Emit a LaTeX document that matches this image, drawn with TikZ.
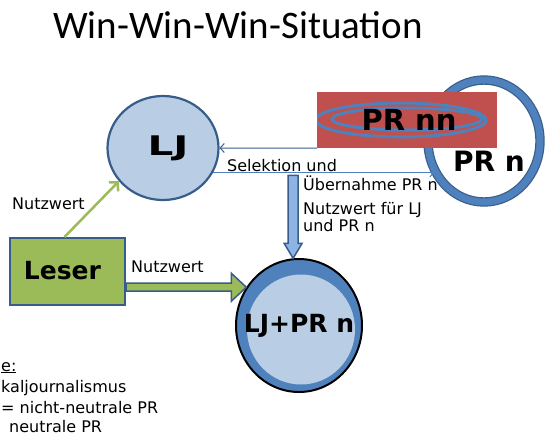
\documentclass[tikz,border=0pt]{standalone}
\usepackage{fontspec}
\setmainfont{DejaVu Sans}
\newfontfamily\titlefont{Carlito}
\usetikzlibrary{arrows.meta, positioning, calc, shapes.geometric}

\definecolor{ljfill}{HTML}{B9CDE5}
\definecolor{ringblue}{HTML}{4F81BD}
\definecolor{edgeblue}{HTML}{385D8A}
\definecolor{prred}{HTML}{C0504D}
\definecolor{leserfill}{HTML}{9BBB59}
\definecolor{shaftblue}{HTML}{8EB4E3}

\begin{document}
\begin{tikzpicture}[
  x=1pt, y=-1pt,
  lbl/.style={font=\fontsize{16}{18}\selectfont, inner sep=0pt, anchor=base west},
  big/.style={font=\fontsize{26}{30}\selectfont\bfseries, inner sep=0pt, inner xsep=-20pt},
  thinarrow/.style={-{Straight Barb[length=4pt,width=9pt]}, line width=1pt},
  blockarrow/.style={draw=edgeblue, line width=1.5pt, line join=miter}
]
\useasboundingbox (0,0) rectangle (546,437);

\node[font=\titlefont\fontsize{39}{44}\selectfont, anchor=base, inner sep=0pt] (title) at (238,38) {Win-Win-Win-Situation};

% circles and boxes
\node[big, ellipse, minimum width=111pt, minimum height=104pt, fill=ljfill, draw=edgeblue, line width=2.2pt,
  font=\fontsize{27}{30}\selectfont\bfseries] (lj) at (163,148) {\hspace{10pt}\scalebox{1.5}[1]{LJ}};
\node[ellipse, minimum width=112pt, minimum height=122pt, fill=white, draw=edgeblue, line width=1.2pt,
  double=ringblue, double distance=7pt,
  label={[big, inner xsep=0pt, font=\fontsize{28}{30}\selectfont\bfseries, xshift=5pt, yshift=-20pt]center:PR n}] (prn) at (484,141) {};
\node[big, rectangle, minimum width=180pt, minimum height=56pt, fill=prred, inner sep=0pt,
  font=\fontsize{29}{30}\selectfont\bfseries,
  path picture={
    \draw[ringblue, line width=3pt] ($(path picture bounding box.center)+(-6pt,0pt)$) ellipse (85pt and 17pt);
    \draw[ringblue, line width=3pt] ($(path picture bounding box.center)+(0pt,1pt)$) ellipse (75pt and 11pt);
  }] (nn) at (407,120) {\hspace{4pt}PR nn};
\node[rectangle, minimum width=115pt, minimum height=67pt, fill=leserfill, draw=edgeblue, line width=2pt,
  font=\fontsize{25}{28}\selectfont\bfseries] (leser) at (67.5,271.5) {\hspace{-10pt}\raisebox{2pt}{Leser}};
\node[big, ellipse, minimum width=126pt, minimum height=133pt, fill=ringblue, draw=black, line width=2pt,
  font=\fontsize{25}{28}\selectfont\bfseries,
  path picture={
    \fill[ljfill] ($(path picture bounding box.center)+(2pt,-4pt)$) ellipse (54pt and 55pt);
  }] (both) at (299,325.5) {LJ+PR n};

% connectors
\coordinate (s1) at (lj.-26);
\draw[thinarrow, edgeblue] (nn.south west) -- (lj.east);
\draw[thinarrow, ringblue] (s1) -- (s1 -| prn.211);
\draw[leserfill, line width=2.5pt, -{Straight Barb[length=6pt,width=13pt]}] (leser.95) -- (lj.217);

\coordinate (vt) at (both.95);
\coordinate (vs) at ($(vt |- s1)+(0,3)$);
\draw[blockarrow, fill=shaftblue] ($(vs)+(-5,0)$) -- ($(vt)+(-5,-15)$) -- ($(vt)+(-9,-15)$) -- (vt)
  -- ($(vt)+(9,-15)$) -- ($(vt)+(5,-15)$) -- ($(vs)+(5,0)$) -- cycle;

\coordinate (gt) at (both.144);
\coordinate (gs) at (leser.east |- gt);
\draw[blockarrow, fill=leserfill] ($(gs)+(0,-4)$) -- ($(gt)+(-15,-4)$) -- ($(gt)+(-15,-14)$) -- (gt)
  -- ($(gt)+(-15,14)$) -- ($(gt)+(-15,4)$) -- ($(gs)+(0,4)$) -- cycle;

% labels
\node[lbl] (nw1) at (12,209) {Nutzwert};
\node[lbl] (nw2) at (131,272) {Nutzwert};
\node[lbl] (sel) at (227,171) {Selektion und};
\node[lbl] (ueb) at (303,190) {Übernahme PR n};
\node[lbl, align=left, font=\fontsize{16}{17}\selectfont] (nwb) at (303,231) {Nutzwert für LJ\\und PR n};

% legend (cut off at the left edge)
\node[lbl] (leg0) at (1,371) {\underline{e:}};
\node[lbl] (leg1) at (1,392) {kaljournalismus};
\node[lbl] (leg2) at (1,413) {= nicht-neutrale PR};
\node[lbl] (leg3) at (9,432) {neutrale PR};
\end{tikzpicture}
\end{document}
